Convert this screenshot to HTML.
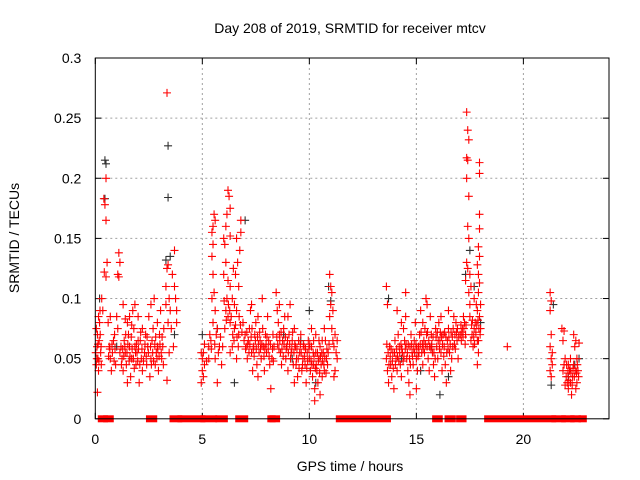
<!DOCTYPE html>
<html><head><meta charset="utf-8">
<style>
body{margin:0;background:#fff;}
svg{display:block;font-family:"Liberation Sans",sans-serif;}
</style></head>
<body>
<svg id="chart" width="640" height="480" viewBox="0 0 640 480">
<rect width="640" height="480" fill="#fff"/>
<text x="350" y="33" font-size="14" text-anchor="middle">Day 208 of 2019, SRMTID for receiver mtcv</text>
<text x="350" y="471" font-size="14" text-anchor="middle">GPS time / hours</text>
<text transform="translate(19,238) rotate(-90)" font-size="14" text-anchor="middle">SRMTID / TECUs</text>
<g id="grid"></g><g id="axes"></g><g id="marks"></g>
<rect x="95.3" y="58" width="513.7" height="360.8" fill="none" stroke="#000" stroke-width="1"/>
</svg>
<script>
const xTicks=[0,5,10,15,20];
const xTickLabels=["0","5","10","15","20"];
const yTicks=[0,0.05,0.1,0.15,0.2,0.25,0.3];
const yTickLabels=["0","0.05","0.1","0.15","0.2","0.25","0.3"];
const zeroRanges=[[0.28,0.43],[0.53,0.7],[2.53,2.73],[3.63,3.9],[4.0,4.98],[5.07,5.53],[5.77,6.03],[6.7,6.98],[8.2,8.26],[8.3,8.47],[11.4,13.65],[15.9,16.07],[16.48,16.68],[17.02,17.18],[18.33,21.37],[21.47,21.82],[21.93,22.23],[22.35,22.53],[22.74,22.8]];
const blackPoints=[[0.45,0.215],[0.5,0.212],[0.45,0.183],[3.4,0.227],[3.4,0.184],[3.3,0.132],[3.5,0.135],[0.2,0.1],[1.0,0.06],[3.7,0.07],[5.0,0.07],[5.7,0.075],[6.5,0.03],[7.0,0.165],[8.8,0.07],[9.2,0.05],[9.6,0.065],[10.0,0.09],[10.3,0.03],[10.9,0.11],[11.0,0.098],[13.7,0.1],[14.3,0.05],[15.2,0.04],[15.7,0.06],[16.1,0.02],[16.5,0.035],[17.3,0.12],[17.5,0.14],[17.7,0.11],[18.0,0.08],[21.3,0.028],[21.4,0.095],[22.1,0.035],[22.4,0.045],[22.6,0.05]];
const redPoints=[
[0.05,0.045],[0.08,0.06],[0.1,0.07],[0.12,0.05],[0.15,0.04],[0.18,0.065],[0.2,0.08],[0.22,0.09],[0.1,0.022],[0.25,0.055],[0.3,0.1],[0.05,0.075],[0.15,0.085],[0.28,0.045],
[0.4,0.183],[0.45,0.178],[0.5,0.2],[0.5,0.165],[0.42,0.122],[0.5,0.118],[0.55,0.13],[0.35,0.09],[0.6,0.08],[0.65,0.06],[0.7,0.05],[0.75,0.04],[0.8,0.055],[0.85,0.065],[0.9,0.07],[0.95,0.045],[0.7,0.085],
[1.05,0.12],[1.1,0.138],[1.15,0.13],[1.1,0.118],[1.0,0.085],[1.05,0.075],[1.2,0.06],[1.25,0.05],[1.3,0.04],[1.35,0.065],[1.4,0.055],[1.45,0.045],[1.5,0.08],[1.55,0.07],[1.6,0.06],[1.65,0.035],[1.7,0.05],[1.75,0.09],[1.8,0.075],[1.85,0.06],[1.9,0.045],[1.95,0.055],[2.0,0.085],[2.05,0.03],[2.1,0.065],[2.15,0.05],[2.2,0.04],[1.3,0.095],[1.5,0.03],[1.85,0.095],[2.2,0.075],[1.15,0.055],[1.6,0.085],[2.0,0.065],
[2.3,0.055],[2.35,0.07],[2.4,0.045],[2.45,0.06],[2.5,0.085],[2.55,0.035],[2.6,0.05],[2.65,0.065],[2.7,0.075],[2.75,0.1],[2.8,0.045],[2.85,0.055],[2.9,0.06],[2.95,0.04],[3.0,0.07],[3.05,0.09],[3.1,0.05],[3.15,0.06],[2.6,0.095],[2.9,0.08],
[3.35,0.271],[3.3,0.11],[3.35,0.125],[3.4,0.128],[3.45,0.1],[3.5,0.09],[3.3,0.095],[3.4,0.08],[3.45,0.055],[3.35,0.032],[3.55,0.075],[3.6,0.12],[3.7,0.11],[3.75,0.1],[3.8,0.09],[3.7,0.14],[3.8,0.08],[3.65,0.06],
[4.95,0.03],[5.0,0.04],[5.0,0.05],[5.05,0.035],[5.1,0.045],[4.95,0.055],[5.3,0.06],[5.35,0.07],[5.3,0.05],
[5.45,0.155],[5.5,0.16],[5.55,0.17],[5.5,0.145],[5.6,0.165],[5.5,0.12],[5.55,0.105],[5.45,0.1],[5.6,0.09],[5.5,0.08],[5.4,0.065],[5.7,0.075],[5.8,0.06],[5.6,0.05],[5.9,0.045],[5.7,0.03],[5.45,0.135],
[6.2,0.19],[6.25,0.185],[6.15,0.17],[6.3,0.175],[6.1,0.16],[6.0,0.15],[6.05,0.145],[6.3,0.152],[6.1,0.13],[6.0,0.12],[6.2,0.115],[6.3,0.11],[6.4,0.1],[6.15,0.1],[6.1,0.09],[6.2,0.085],[6.3,0.08],[6.05,0.075],[6.5,0.095],[6.6,0.09],[6.5,0.075],[6.4,0.06],[6.3,0.055],[6.6,0.05],[6.7,0.07],[6.6,0.15],[6.8,0.155],[6.75,0.14],[6.65,0.13],[6.55,0.12],[6.7,0.11],[6.8,0.165],[6.45,0.125],
[6.9,0.08],[7.0,0.07],[7.05,0.06],[7.1,0.05],[7.15,0.065],[7.2,0.075],[7.25,0.09],[7.3,0.055],[7.35,0.04],[7.4,0.06],[7.45,0.07],[7.5,0.08],[7.55,0.045],[7.6,0.035],[7.65,0.055],[7.7,0.065],[7.75,0.05],[7.8,0.1],[7.85,0.06],[7.9,0.04],[7.95,0.07],[8.0,0.055],[8.05,0.085],[8.1,0.065],[8.15,0.045],[8.2,0.025],[8.25,0.05],[8.3,0.07],[8.35,0.06],[7.3,0.095],[7.6,0.085],
[8.45,0.105],[8.5,0.09],[8.55,0.08],[8.6,0.07],[8.65,0.055],[8.7,0.045],[8.75,0.065],[8.8,0.075],[8.85,0.085],[8.9,0.05],[8.95,0.06],[9.0,0.04],[9.05,0.07],[9.1,0.095],[9.15,0.055],[9.2,0.065],[9.25,0.045],[9.3,0.075],[9.35,0.06],[9.4,0.05],[9.45,0.035],[9.5,0.065],[9.55,0.055],[9.6,0.07],[9.65,0.04],[9.7,0.05],[9.75,0.06],[9.8,0.045],[9.85,0.03],[9.9,0.055],[9.95,0.065],[8.6,0.095],[9.0,0.085],[9.3,0.03],
[10.0,0.05],[10.05,0.04],[10.1,0.06],[10.15,0.035],[10.2,0.045],[10.25,0.025],[10.3,0.055],[10.35,0.04],[10.4,0.03],[10.45,0.05],[10.5,0.02],[10.55,0.045],[10.6,0.035],[10.65,0.055],[10.7,0.04],[10.75,0.065],[10.8,0.05],[10.85,0.045],[10.1,0.075],[10.3,0.07],[10.5,0.06],[10.7,0.075],[10.25,0.015],[10.45,0.065],
[10.95,0.12],[11.0,0.11],[11.05,0.105],[11.0,0.095],[11.1,0.09],[10.95,0.085],[11.05,0.075],[11.1,0.065],[11.15,0.06],[11.2,0.07],[11.25,0.055],[11.3,0.05],[11.2,0.04],[11.3,0.065],[11.15,0.035],
[13.6,0.11],[13.65,0.095],[13.6,0.05],[13.65,0.04],[13.7,0.03],[13.75,0.06],[13.8,0.045],[13.85,0.035],[13.9,0.055],[13.95,0.025],[14.0,0.065],[14.05,0.05],[14.1,0.04],[14.15,0.07],[14.2,0.06],[14.25,0.045],[14.3,0.035],[14.35,0.055],[14.4,0.075],[14.45,0.065],[14.5,0.105],[14.5,0.085],[14.55,0.05],[14.6,0.04],[14.65,0.03],[14.7,0.06],[14.75,0.07],[14.8,0.055],[14.85,0.045],[14.9,0.065],[14.95,0.08],[15.0,0.05],[15.05,0.04],[15.1,0.06],[15.15,0.07],[15.2,0.09],[15.25,0.055],[15.3,0.045],[15.35,0.065],[15.4,0.075],[15.45,0.1],[15.5,0.095],[15.5,0.06],[15.55,0.05],[15.6,0.04],[15.65,0.085],[15.7,0.07],[15.75,0.055],[15.8,0.045],[15.85,0.035],[14.1,0.09],[14.7,0.02],[15.0,0.025],[15.3,0.08],[14.3,0.08],
[15.9,0.075],[15.95,0.06],[16.0,0.05],[16.05,0.08],[16.1,0.065],[16.15,0.055],[16.2,0.04],[16.25,0.07],[16.3,0.06],[16.35,0.045],[16.4,0.03],[16.45,0.065],[16.5,0.075],[16.55,0.055],[16.6,0.04],[16.65,0.05],[16.7,0.06],[16.75,0.085],[16.8,0.07],[16.85,0.08],[16.9,0.065],[16.95,0.05],[16.5,0.09],[16.15,0.085],
[17.05,0.07],[17.1,0.065],[17.15,0.075],[17.2,0.085],[17.25,0.08],[17.3,0.07],[17.35,0.255],[17.4,0.24],[17.45,0.232],[17.35,0.217],[17.4,0.215],[17.35,0.2],[17.45,0.185],[17.4,0.16],[17.45,0.15],[17.35,0.13],[17.4,0.125],[17.3,0.115],[17.5,0.12],[17.45,0.105],[17.55,0.11],[17.5,0.095],[17.5,0.085],[17.6,0.07],[17.65,0.06],[17.7,0.075],[17.75,0.08],[17.8,0.095],[17.85,0.065],[17.7,0.1],[17.55,0.065],
[17.95,0.213],[17.95,0.204],[17.95,0.17],[17.95,0.158],[17.9,0.143],[17.95,0.135],[17.85,0.128],[17.9,0.12],[17.95,0.113],[17.9,0.105],[17.85,0.09],[17.95,0.085],[18.0,0.075],[17.9,0.065],[18.0,0.095],[17.9,0.055],[17.85,0.045],
[19.25,0.06],
[21.25,0.105],[21.3,0.098],[21.25,0.09],[21.3,0.07],[21.25,0.06],[21.3,0.05],[21.35,0.045],[21.25,0.04],[21.3,0.035],[21.35,0.055],
[21.8,0.075],[21.9,0.073],[21.85,0.065],[21.95,0.05],[21.9,0.045],[21.85,0.04],[22.0,0.035],[22.05,0.03],[22.1,0.025],[22.15,0.04],[22.2,0.03],[22.25,0.02],[22.3,0.035],[22.35,0.045],[22.4,0.06],[22.45,0.065],[22.5,0.05],[22.55,0.04],[22.5,0.03],[22.6,0.063],[22.45,0.025],[22.2,0.05],[22.35,0.07],[21.95,0.028],[22.1,0.045]
];
const redPointsExtra=[
[0.02,0.055],[0.07,0.05],[0.13,0.062],[0.17,0.048],[0.23,0.07],[0.27,0.06],[0.62,0.052],[0.68,0.058],[0.78,0.062],[0.88,0.048],[0.92,0.058],
[1.22,0.045],[1.28,0.058],[1.33,0.052],[1.38,0.06],[1.42,0.07],[1.48,0.055],[1.52,0.062],[1.58,0.048],[1.62,0.052],[1.68,0.068],[1.72,0.058],[1.78,0.05],[1.82,0.042],[1.88,0.055],[1.92,0.062],[1.98,0.048],[2.02,0.058],[2.08,0.045],[2.12,0.072],[2.18,0.058],[2.25,0.048],[1.4,0.083],[1.7,0.078],
[2.32,0.062],[2.38,0.052],[2.42,0.068],[2.48,0.055],[2.58,0.06],[2.62,0.045],[2.68,0.055],[2.72,0.048],[2.78,0.062],[2.82,0.068],[2.88,0.05],[2.92,0.058],[2.98,0.052],[3.02,0.062],[3.08,0.055],[3.12,0.068],[3.18,0.045],[3.2,0.075],
[5.05,0.055],[5.1,0.062],[5.2,0.048],[5.42,0.058],[5.58,0.062],[5.65,0.07],[5.75,0.055],[5.85,0.068],[5.95,0.06],[6.02,0.098],[6.12,0.082],[6.22,0.095],[6.28,0.09],[6.35,0.085],[6.42,0.07],[6.48,0.065],[6.55,0.078],[6.62,0.068],[6.68,0.06],[6.72,0.085],[6.78,0.078],[6.85,0.072],
[6.95,0.065],[7.02,0.058],[7.08,0.072],[7.12,0.062],[7.18,0.055],[7.22,0.062],[7.28,0.068],[7.32,0.075],[7.38,0.058],[7.42,0.052],[7.48,0.065],[7.52,0.058],[7.58,0.068],[7.62,0.062],[7.68,0.072],[7.72,0.058],[7.78,0.062],[7.82,0.075],[7.88,0.052],[7.92,0.058],[7.98,0.062],[8.02,0.068],[8.08,0.058],[8.12,0.052],[8.18,0.062],[8.28,0.058],[8.32,0.048],
[8.48,0.068],[8.52,0.062],[8.58,0.058],[8.62,0.065],[8.68,0.072],[8.72,0.058],[8.78,0.052],[8.82,0.062],[8.88,0.068],[8.92,0.058],[8.98,0.065],[9.02,0.055],[9.08,0.062],[9.12,0.05],[9.18,0.058],[9.22,0.072],[9.28,0.055],[9.32,0.062],[9.38,0.045],[9.42,0.058],[9.48,0.05],[9.52,0.042],[9.58,0.062],[9.62,0.055],[9.68,0.045],[9.72,0.062],[9.78,0.052],[9.82,0.058],[9.88,0.042],[9.92,0.048],[9.98,0.058],
[10.02,0.062],[10.08,0.048],[10.12,0.045],[10.18,0.055],[10.22,0.052],[10.28,0.042],[10.32,0.045],[10.38,0.055],[10.42,0.048],[10.48,0.038],[10.52,0.052],[10.58,0.055],[10.62,0.048],[10.68,0.045],[10.72,0.052],[10.78,0.038],[10.82,0.058],[10.88,0.055],[10.92,0.062],[10.2,0.065],[10.6,0.065],
[13.62,0.062],[13.68,0.055],[13.72,0.045],[13.78,0.052],[13.82,0.058],[13.88,0.048],[13.92,0.042],[13.98,0.055],[14.02,0.045],[14.08,0.058],[14.12,0.052],[14.18,0.048],[14.22,0.055],[14.28,0.062],[14.32,0.058],[14.38,0.048],[14.42,0.052],[14.48,0.058],[14.52,0.062],[14.58,0.055],[14.62,0.062],[14.68,0.05],[14.72,0.045],[14.78,0.062],[14.82,0.052],[14.88,0.058],[14.92,0.055],[14.98,0.062],[15.02,0.058],[15.08,0.052],[15.12,0.055],[15.18,0.062],[15.22,0.072],[15.28,0.062],[15.32,0.058],[15.38,0.055],[15.42,0.062],[15.48,0.07],[15.52,0.072],[15.58,0.065],[15.62,0.06],[15.68,0.058],[15.72,0.062],[15.78,0.068],[15.82,0.055],[15.88,0.05],
[15.92,0.068],[15.98,0.072],[16.02,0.065],[16.08,0.058],[16.12,0.072],[16.18,0.068],[16.22,0.062],[16.28,0.052],[16.32,0.072],[16.38,0.068],[16.42,0.055],[16.48,0.058],[16.52,0.068],[16.58,0.062],[16.62,0.072],[16.68,0.068],[16.72,0.075],[16.78,0.062],[16.82,0.058],[16.88,0.072],[16.92,0.075],[16.98,0.068],
[17.08,0.078],[17.12,0.072],[17.18,0.068],[17.22,0.075],[17.28,0.062],[17.32,0.078],[17.58,0.078],[17.62,0.082],[17.68,0.068],[17.72,0.062],[17.78,0.072],[17.82,0.078],[17.88,0.082],[17.92,0.075],[17.98,0.07],
[22.02,0.045],[22.08,0.038],[22.12,0.032],[22.18,0.042],[22.22,0.038],[22.28,0.028],[22.32,0.042],[22.38,0.035],[22.42,0.04],[22.48,0.038],[22.52,0.045],[22.58,0.035]
];
const NS="http://www.w3.org/2000/svg";
const X0=95.3,X1=609,Y0=418.8,Y1=58;
function xs(t){return X0+(X1-X0)*t/24;}
function ys(v){return Y0-(Y0-Y1)*v/0.3;}
function mk(tag,attrs,parent){const e=document.createElementNS(NS,tag);for(const k in attrs)e.setAttribute(k,attrs[k]);parent.appendChild(e);return e;}
const grid=document.getElementById('grid'),axes=document.getElementById('axes'),marks=document.getElementById('marks');
xTicks.forEach((t,i)=>{
  const x=xs(t);
  if(i>0){const g=mk('line',{x1:x,x2:x,y1:Y1,y2:Y0,stroke:'#a0a0a0','stroke-dasharray':'2,3'},grid);
  
  }
  mk('line',{x1:x,x2:x,y1:Y0,y2:Y0-6,stroke:'#000'},axes);
  mk('line',{x1:x,x2:x,y1:Y1,y2:Y1+6,stroke:'#000'},axes);
  const l=mk('text',{x:x,y:Y0+25,'font-size':14,'text-anchor':'middle'},axes);
  l.textContent=xTickLabels[i];
  
  
});
yTicks.forEach((v,i)=>{
  const y=ys(v);
  if(i>0&&i<yTicks.length-1){const g=mk('line',{x1:X0,x2:X1,y1:y,y2:y,stroke:'#a0a0a0','stroke-dasharray':'2,3'},grid);
  
  }
  mk('line',{x1:X0,x2:X0+6,y1:y,y2:y,stroke:'#000'},axes);
  mk('line',{x1:X1,x2:X1-6,y1:y,y2:y,stroke:'#000'},axes);
  const l=mk('text',{x:X0-14,y:y+5,'font-size':14,'text-anchor':'end'},axes);
  l.textContent=yTickLabels[i];
  
  
});
function plus(t,v,col,name){
  const x=xs(t),y=ys(v);
  const p=mk('path',{d:`M${x-4},${y}H${x+4}M${x},${y-4}V${y+4}`,stroke:col,'stroke-width':1.1,fill:'none'},marks);
  
  
}
blackPoints.forEach(p=>plus(p[0],p[1],'#303030','black-point'));
redPoints.forEach(p=>plus(p[0],p[1],'#ff0000','red-point'));
redPointsExtra.forEach(p=>plus(p[0],p[1],'#ff0000','red-point'));
zeroRanges.forEach(r=>{
  const x=xs(r[0])-3.5,w=xs(r[1])-xs(r[0])+7;
  const e=mk('rect',{x:x,y:Y0-3.5,width:w,height:7,fill:'#ff0000'},marks);
  
  
});
</script>
</body></html>
